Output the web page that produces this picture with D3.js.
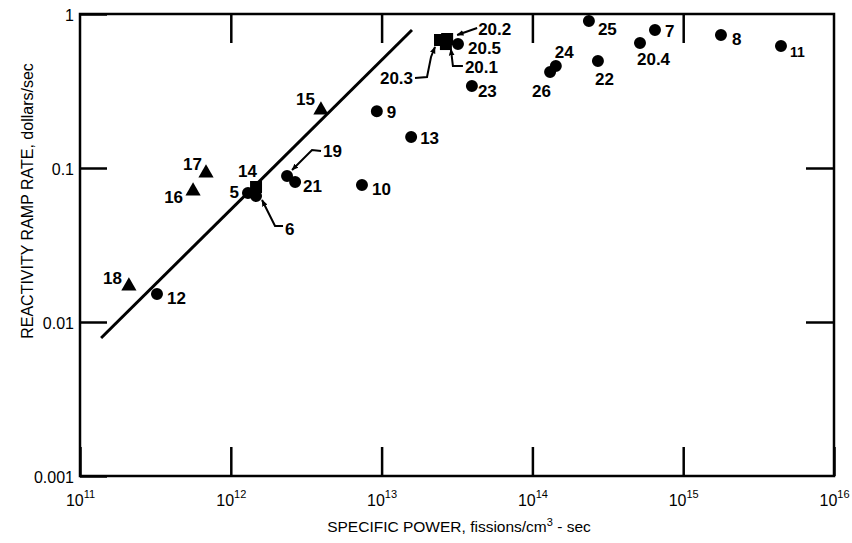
<!DOCTYPE html>
<html>
<head>
<meta charset="utf-8">
<script src="https://cdnjs.cloudflare.com/ajax/libs/d3/7.8.5/d3.min.js"></script>
<style>
body { margin: 0; background: #fff; }
svg { display: block; }
text { font-family: "Liberation Sans", Arial, Helvetica, sans-serif; fill: #000; }
</style>
</head>
<body>
<svg id="chart" width="852" height="543"></svg>
<script>
// values (specific power in fissions/cm3-sec, ramp rate in dollars/sec)
var circleIds   = ["5", "6", "7", "8", "9", "10", "11", "12", "13", "19", "20.4", "20.5", "21", "22", "23", "24", "25", "26"];
var circlePower = [1.30e12, 1.47e12, 6.50e14, 1.78e15, 9.3e12, 7.41e12, 4.45e15, 3.24e11, 1.57e13, 2.36e12, 5.17e14, 3.21e13, 2.67e12, 2.72e14, 3.97e13, 1.43e14, 2.37e14, 1.31e14];
var circleRate  = [0.0688, 0.0658, 0.787, 0.731, 0.234, 0.0776, 0.620, 0.0152, 0.159, 0.0887, 0.648, 0.638, 0.0811, 0.495, 0.341, 0.459, 0.901, 0.420];

var triangleIds   = ["15", "16", "17", "18"];
var trianglePower = [3.96e12, 5.62e11, 6.85e11, 2.11e11];
var triangleRate  = [0.238, 0.0709, 0.0928, 0.0171];

var squareIds   = ["14", "20.1", "20.2", "20.3"];
var squarePower = [1.47e12, 2.67e13, 2.72e13, 2.44e13];
var squareRate  = [0.0753, 0.638, 0.688, 0.678];

// straight fit line, end points
var fitPower = [1.38e11, 1.59e13];
var fitRate  = [0.00787, 0.787];

var xTicks = [1e11, 1e12, 1e13, 1e14, 1e15, 1e16];
var yTicks = [0.001, 0.01, 0.1, 1];
var yTickLabels = ["0.001", "0.01", "0.1", "1"];

// label placement: [anchor, dx, dy] from the marker centre
var labelPlace = {
    "5": ["end", -9, 5], "6": ["start", 29, 39], "7": ["start", 10, 7], "8": ["start", 11, 10],
    "9": ["start", 10, 7], "10": ["start", 10, 10], "11": ["start", 9, 11], "12": ["start", 10, 10],
    "13": ["start", 9, 7], "14": ["start", -18, -10], "15": ["end", -6, -5], "16": ["end", -10, 12],
    "17": ["end", -4, -3], "18": ["end", -7, -2], "19": ["start", 36, -19], "20.1": ["start", 19, 29],
    "20.2": ["start", 31, -4], "20.3": ["end", -27, 44], "20.4": ["start", -3, 22], "20.5": ["start", 10, 10],
    "21": ["start", 8, 10], "22": ["start", -3, 24], "23": ["start", 6, 11], "24": ["start", -1, -8],
    "25": ["start", 9, 14], "26": ["start", -18, 25]
};
// leader lines with arrow at the marker end (pixel offsets from the marker)
var leaders = {
    "6": [[27, 30], [19, 30], [11, 14], [6, 4]],
    "19": [[34, -25], [25, -26], [5, -6]],
    "20.3": [[-25, 38], [-13, 37], [-9, 17], [-5, 7]],
    "20.1": [[17, 22], [7, 22], [5, 5]],
    "20.2": [[30, -11], [10, -4]]
};

var margin = {top: 14, right: 18, bottom: 67, left: 80},
    width = 852 - margin.left - margin.right,
    height = 543 - margin.top - margin.bottom;

var svg = d3.select("#chart");
var defs = svg.append("defs");
defs.append("marker").attr("id", "arrow")
    .attr("viewBox", "0 0 10 10").attr("refX", 9).attr("refY", 5)
    .attr("markerWidth", 7).attr("markerHeight", 7).attr("markerUnits", "userSpaceOnUse")
    .attr("orient", "auto")
    .append("path").attr("d", "M0,1 L10,5 L0,9 Z").attr("fill", "#000");

var g = svg.append("g").attr("transform", "translate(" + margin.left + "," + margin.top + ")");

var x = d3.scaleLog().domain([1e11, 1e16]).range([0, width]);
var y = d3.scaleLog().domain([0.001, 1]).range([height, 0]);

// axes, ticks drawn inward
var xAxis = g.append("g").attr("transform", "translate(0," + height + ")")
    .call(d3.axisBottom(x).tickValues(xTicks).tickSizeInner(-29).tickSizeOuter(0).tickPadding(19).tickFormat(""));
xAxis.selectAll(".tick text").each(function(d) {
    var t = d3.select(this).attr("font-size", 16);
    t.append("tspan").text("10");
    t.append("tspan").attr("dy", -8).attr("font-size", 11).text(Math.round(Math.log10(d)));
});

g.append("g")
    .call(d3.axisLeft(y).tickValues(yTicks).tickSizeInner(-27).tickSizeOuter(0).tickPadding(6)
        .tickFormat(function(d, i) { return yTickLabels[i]; }))
    .selectAll(".tick text").attr("font-size", 16).attr("dy", "0.4em");

g.append("g").attr("transform", "translate(" + width + ",0)")
    .call(d3.axisRight(y).tickValues([0.01, 0.1]).tickSizeInner(-28).tickSizeOuter(0).tickFormat(""));
g.append("g")
    .call(d3.axisTop(x).tickValues([1e12, 1e13, 1e14, 1e15]).tickSizeInner(-29).tickSizeOuter(0).tickFormat(""));

g.selectAll(".domain").remove();
g.selectAll(".tick line").attr("stroke", "#000").attr("stroke-width", 2.5);
g.selectAll(".tick text").attr("font-family", null);

g.append("rect").attr("width", width).attr("height", height)
    .attr("fill", "none").attr("stroke", "#000").attr("stroke-width", 2.5);

// fit line
var line = d3.line().x(function(d) { return x(d[0]); }).y(function(d) { return y(d[1]); });
g.append("path").datum(d3.zip(fitPower, fitRate))
    .attr("d", line).attr("fill", "none").attr("stroke", "#000").attr("stroke-width", 3);

// markers
var pts = [];
circleIds.forEach(function(id, i) { pts.push({id: id, shape: "circle", p: circlePower[i], r: circleRate[i]}); });
triangleIds.forEach(function(id, i) { pts.push({id: id, shape: "triangle", p: trianglePower[i], r: triangleRate[i]}); });
squareIds.forEach(function(id, i) { pts.push({id: id, shape: "square", p: squarePower[i], r: squareRate[i]}); });

var symbols = {
    circle: d3.symbol().type(d3.symbolCircle).size(113),
    triangle: d3.symbol().type(d3.symbolTriangle).size(100),
    square: d3.symbol().type(d3.symbolSquare).size(144)
};

g.selectAll(".pt").data(pts).enter().append("path")
    .attr("class", "pt")
    .attr("transform", function(d) { return "translate(" + x(d.p) + "," + y(d.r) + ")"; })
    .attr("d", function(d) { return symbols[d.shape](); })
    .attr("fill", "#000");

// leaders
g.selectAll(".leader").data(pts.filter(function(d) { return leaders[d.id]; })).enter()
    .append("polyline").attr("class", "leader")
    .attr("points", function(d) {
        var cx = x(d.p), cy = y(d.r);
        return leaders[d.id].map(function(o) { return (cx + o[0]) + "," + (cy + o[1]); }).join(" ");
    })
    .attr("fill", "none").attr("stroke", "#000").attr("stroke-width", 2)
    .attr("marker-end", "url(#arrow)");

// point labels
g.selectAll(".lbl").data(pts).enter().append("text")
    .attr("class", "lbl")
    .attr("x", function(d) { return x(d.p) + labelPlace[d.id][1]; })
    .attr("y", function(d) { return y(d.r) + labelPlace[d.id][2]; })
    .attr("text-anchor", function(d) { return labelPlace[d.id][0]; })
    .attr("font-size", function(d) { return d.id == "11" ? 14 : 17; })
    .attr("font-weight", "bold")
    .text(function(d) { return d.id; });

// axis titles
var xt = g.append("text").attr("x", width / 2 + 2).attr("y", height + 56)
    .attr("text-anchor", "middle").attr("font-size", 15.5);
xt.append("tspan").text("SPECIFIC POWER, fissions/cm");
xt.append("tspan").attr("dy", -6).attr("font-size", 11).text("3");
xt.append("tspan").attr("dy", 6).text(" - sec");

g.append("text").attr("transform", "rotate(-90)")
    .attr("x", -187).attr("y", -47)
    .attr("text-anchor", "middle").attr("font-size", 16)
    .text("REACTIVITY RAMP RATE, dollars/sec");
</script>
</body>
</html>
